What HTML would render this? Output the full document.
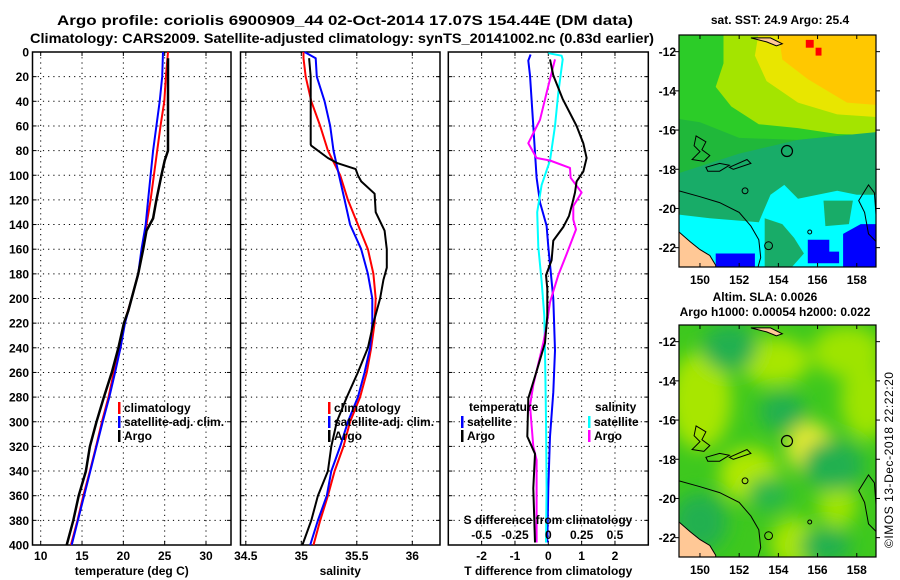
<!DOCTYPE html>
<html><head><meta charset="utf-8"><style>
html,body{margin:0;padding:0;background:#fff;}
svg{display:block;font-family:"Liberation Sans",Arial,sans-serif;}
.t{font-weight:bold;font-size:13.5px;fill:#000;}
.tk{font-weight:bold;font-size:12px;fill:#000;}
</style></head><body>
<svg id="chart" width="900" height="580" viewBox="0 0 900 580" xmlns="http://www.w3.org/2000/svg">
<text class="t" x="345" y="25" text-anchor="middle" textLength="576" lengthAdjust="spacingAndGlyphs">Argo profile: coriolis 6900909_44 02-Oct-2014 17.07S 154.44E (DM data)</text>
<text class="t" x="342" y="43" text-anchor="middle" textLength="624" lengthAdjust="spacingAndGlyphs">Climatology: CARS2009. Satellite-adjusted climatology: synTS_20141002.nc (0.83d earlier)</text>
<g id="p1"></g>
<g id="p2"></g>
<g id="p3"></g>
<g id="m1"></g>
<g id="m2"></g>
<text x="893" y="460" font-size="12" text-anchor="middle" transform="rotate(-90 893 460)" textLength="176">©IMOS 13-Dec-2018 22:22:20</text>
</svg>
<script>
// ---- data ----
const depthTicks=[0,20,40,60,80,100,120,140,160,180,200,220,240,260,280,300,320,340,360,380,400];
const tempTicks=[10,15,20,25,30];
const salTicks=[34.5,35,35.5,36];
const tdTicks=[-2,-1,0,1,2];
const sdTicks=[-0.5,-0.25,0,0.25,0.5];
const sdTickLabels=["-0.5","-0.25","0","0.25","0.5"];
const stdDepths=[0,20,40,60,80,100,120,140,160,180,200,220,240,260,280,300,320,340,360,380,400];
const tempClim=[25.4,25.15,24.95,24.5,24.1,23.7,23.3,22.8,22.3,21.8,21.0,20.1,19.65,18.85,18.2,17.4,16.7,15.95,15.15,14.45,13.65];
const tempSat=[24.8,24.7,24.4,24.0,23.6,23.3,23.0,22.7,22.2,21.8,21.0,20.2,19.65,19.0,18.3,17.5,16.75,16.0,15.25,14.5,13.75];
const argoTDepths=[5,80,88,100,120,135,145,160,180,200,210,220,240,260,280,300,320,340,360,380,400];
const tempArgo=[25.4,25.4,25.0,24.6,24.0,23.6,22.8,22.4,21.8,21.0,20.6,20.07,19.4,18.6,17.65,16.75,15.95,15.47,14.6,13.95,13.15];
const salClimD=[0,5,20,40,60,80,100,120,140,160,180,200,220,240,260,280,300,320,340,360,380,400];
const salClim=[35.02,35.02,35.04,35.09,35.17,35.24,35.35,35.42,35.51,35.6,35.65,35.67,35.66,35.63,35.59,35.53,35.44,35.38,35.3,35.24,35.17,35.11];
const salSat=[35.03,35.13,35.14,35.21,35.26,35.29,35.34,35.39,35.44,35.54,35.6,35.64,35.64,35.62,35.57,35.51,35.42,35.35,35.27,35.23,35.15,35.08];
const salArgoD=[5,20,75,76,86,90,95,100,105,115,130,145,160,175,185,200,220,240,260,280,300,320,340,360,380,400];
const salArgo=[35.07,35.085,35.085,35.09,35.24,35.32,35.49,35.51,35.54,35.66,35.67,35.75,35.77,35.77,35.74,35.71,35.65,35.6,35.51,35.41,35.32,35.27,35.24,35.15,35.09,35.01];
const dTSatD=[2,7,19,60,102,122,141,158,200,242,276,312,354,398];
const dTSat=[-0.53,-0.6,-0.55,-0.45,-0.35,-0.25,-0.05,0,0.15,0.2,0.15,0.05,0,-0.03];
const dTArgoD=[6,19,38,60,74,86,97,105,114,122,133,142,153,169,181,192,214,236,259,281,312,326,354,398];
const dTArgo=[0.05,0.15,0.43,0.85,1.05,1.15,1.05,0.85,0.8,0.73,0.62,0.45,0.15,0.1,-0.07,-0.03,-0.03,-0.1,-0.35,-0.6,-0.63,-0.4,-0.45,-0.4];
const dSSatD=[1,3,6,33,60,88,108,130,158,186,214,242,298,354,398];
const dSSat=[0,0.1,0.108,0.075,0.05,0.0125,-0.05,-0.083,-0.075,-0.05,-0.03,-0.025,-0.0175,-0.0125,-0.0175];
const dSArgoD=[6,33,55,74,86,88,94,102,114,125,136,144,164,181,203,222,236,270,287,320,331,398];
const dSArgo=[0.05,-0.0125,-0.0625,-0.15,-0.0875,0.0125,0.1625,0.1675,0.25,0.1875,0.1875,0.2075,0.1375,0.075,0.0125,-0.0125,-0.0375,-0.1125,-0.1375,-0.1125,-0.0875,-0.0875];
const lonTicks=[150,152,154,156,158];
const latTicks=[-12,-14,-16,-18,-20,-22];
const argoLon=154.44, argoLat=-17.07;

// ---- helpers ----
const NS="http://www.w3.org/2000/svg";
function mk(parent,tag,attrs,text){const e=document.createElementNS(NS,tag);for(const k in attrs)e.setAttribute(k,attrs[k]);if(text!==undefined)e.textContent=text;parent.appendChild(e);return e;}
const TOP=52,BOT=545;
const yD=d=>TOP+(BOT-TOP)*d/400;
function linScale(d0,d1,r0,r1){return v=>r0+(v-d0)*(r1-r0)/(d1-d0);}

function panel(g,x0,x1,sx,xt,xtl,title,gridT){
  depthTicks.forEach(d=>{if(d>0&&d<400){const l=mk(g,'line',{x1:x0,x2:x1,y1:yD(d),y2:yD(d),stroke:'#000','stroke-width':1,'stroke-dasharray':'1.2 4'});
    }});
  gridT.forEach(v=>{const X=sx(v);const l=mk(g,'line',{x1:X,x2:X,y1:TOP,y2:BOT,stroke:'#000','stroke-width':1,'stroke-dasharray':'1.2 4'});
    });
  const r=mk(g,'rect',{x:x0,y:TOP,width:x1-x0,height:BOT-TOP,fill:'none',stroke:'#000','stroke-width':1.5});
  
  depthTicks.forEach(d=>{mk(g,'line',{x1:x0,x2:x0+4,y1:yD(d),y2:yD(d),stroke:'#000'});mk(g,'line',{x1:x1-4,x2:x1,y1:yD(d),y2:yD(d),stroke:'#000'});});
  xt.forEach((v,i)=>{const X=sx(v);mk(g,'line',{x1:X,x2:X,y1:BOT-4,y2:BOT,stroke:'#000'});mk(g,'line',{x1:X,x2:X,y1:TOP,y2:TOP+4,stroke:'#000'});
    const t=mk(g,'text',{class:'tk',x:X,y:BOT+15,'text-anchor':'middle'},xtl[i]);
    });
  const tt=mk(g,'text',{class:'tk',x:(x0+x1)/2,y:575,'text-anchor':'middle'},title);
  
}
function series(g,vals,deps,sx,color,w,name){
  const d=vals.map((v,i)=>(i?'L':'M')+sx(v).toFixed(1)+','+yD(deps[i]).toFixed(1)).join('');
  const p=mk(g,'path',{d:d,fill:'none',stroke:color,'stroke-width':w,'stroke-linejoin':'round'});
  
}
function legendItem(g,x,y,color,label,name){
  mk(g,'rect',{x:x,y:y-10,width:2.5,height:12,fill:color});
  const t=mk(g,'text',{class:'tk',x:x+6,y:y},label);
  
}

const svg=document.getElementById('chart');
depthTicks.forEach(d=>{const t=mk(svg,'text',{class:'tk',x:29,y:yD(d)+4.5,'text-anchor':'end'},String(d));
  });

// panel 1
const p1=document.getElementById('p1');
const sxT=linScale(10,30,40.7,206);
panel(p1,32.5,231,sxT,tempTicks,tempTicks.map(String),'temperature (deg C)',tempTicks);
series(p1,tempClim,stdDepths,sxT,'#ff0000',2,'temp-climatology-line');
series(p1,tempSat,stdDepths,sxT,'#0000ff',2,'temp-satellite-line');
series(p1,tempArgo,argoTDepths,sxT,'#000000',2.5,'temp-argo-line');
legendItem(p1,118,412,'#ff0000','climatology','legend-climatology');
legendItem(p1,118,426,'#0000ff','satellite-adj. clim.','legend-satellite');
legendItem(p1,118,440,'#000000','Argo','legend-argo');

// panel 2
const p2=document.getElementById('p2');
const sxS=linScale(35,36,301.3,412.3);
panel(p2,240.5,440,sxS,salTicks,salTicks.map(String),'salinity',salTicks);
series(p2,salClim,salClimD,sxS,'#ff0000',2,'sal-climatology-line');
series(p2,salSat,salClimD,sxS,'#0000ff',2,'sal-satellite-line');
series(p2,salArgo,salArgoD,sxS,'#000000',2,'sal-argo-line');
legendItem(p2,328,412,'#ff0000','climatology','legend-climatology');
legendItem(p2,328,426,'#0000ff','satellite-adj. clim.','legend-satellite');
legendItem(p2,328,440,'#000000','Argo','legend-argo');

// panel 3
const p3=document.getElementById('p3');
const sxD=linScale(-3,3,448.3,648.3);
const sxSD=v=>sxD(v*4);
panel(p3,448.3,648.3,sxD,tdTicks,tdTicks.map(String),'T difference from climatology',tdTicks);
series(p3,dTSat,dTSatD,sxD,'#0000ff',2,'dT-satellite-line');
series(p3,dSSat,dSSatD,sxSD,'#00ffff',2,'dS-satellite-line');
series(p3,dSArgo,dSArgoD,sxSD,'#ff00ff',2,'dS-argo-line');
series(p3,dTArgo,dTArgoD,sxD,'#000000',2,'dT-argo-line');
sdTicks.forEach((v,i)=>{const t=mk(p3,'text',{class:'tk',x:sxSD(v),y:539,'text-anchor':'middle'},sdTickLabels[i]);
  });
{const t=mk(p3,'text',{class:'tk',x:548,y:524,'text-anchor':'middle'},'S difference from climatology');
 }
{const t=mk(p3,'text',{class:'tk',x:469,y:411},'temperature');}
{const t=mk(p3,'text',{class:'tk',x:595,y:411},'salinity');}
legendItem(p3,461,426,'#0000ff','satellite','legend-t-satellite');
legendItem(p3,461,440,'#000000','Argo','legend-t-argo');
legendItem(p3,588,426,'#00ffff','satellite','legend-s-satellite');
legendItem(p3,588,440,'#ff00ff','Argo','legend-s-argo');

// maps
const MX0=679,MX1=876,LON0=148.93,LAT0=-11.15,PPD=19.6;
function mapFrame(g,top){
  const H=232;
  const mx=lon=>MX0+(lon-LON0)*PPD, my=lat=>top+(LAT0-lat)*PPD;
  const cp='clip'+top;
  const defs=mk(g,'defs',{});const c=mk(defs,'clipPath',{id:cp});mk(c,'rect',{x:MX0,y:top,width:MX1-MX0,height:H});
  const f=mk(defs,'filter',{id:'bl'+top,x:'-50%',y:'-50%',width:'200%',height:'200%'});mk(f,'feGaussianBlur',{stdDeviation:9});
  const body=mk(g,'g',{'clip-path':'url(#'+cp+')'});
  return {mx,my,body,H,top,finish(){
    const poly=(pts,fill,stroke,name)=>{const p=mk(body,'path',{d:'M'+pts.map(q=>mx(q[0]).toFixed(1)+','+my(q[1]).toFixed(1)).join('L')+'Z',fill:fill,stroke:stroke||'none','stroke-width':1});
      };
    poly([[148.93,-21.2],[149.5,-21.7],[150,-22.1],[150.5,-22.4],[150.8,-22.9],[150.8,-23.2],[148.93,-23.2]],'#ffc896','#000','australia-coast');
    const line=(pts,name)=>{const p=mk(body,'path',{d:'M'+pts.map(q=>mx(q[0]).toFixed(1)+','+my(q[1]).toFixed(1)).join('L'),fill:'none',stroke:'#000','stroke-width':1});
      };
    line([[148.93,-19.1],[150,-19.4],[151,-19.7],[152,-20.2],[152.6,-20.9],[153,-21.6],[153.1,-22.5],[152.9,-23.2]],'reef-contour');
    poly([[149.8,-16.3],[150.3,-16.6],[150.1,-17.0],[150.5,-17.3],[150.2,-17.6],[149.6,-17.5],[150.0,-17.1],[149.7,-16.8]],'none','#000','reef-outline');
    poly([[150.3,-17.9],[151,-17.7],[151.5,-17.8],[151.0,-18.1],[150.4,-18.1]],'none','#000','reef-outline');
    poly([[151.5,-17.9],[152.4,-17.5],[152.6,-17.7],[151.7,-18.0]],'none','#000','reef-outline');
    poly([[158.1,-19.6],[158.6,-18.8],[158.9,-19.2],[159.0,-20.6],[159.3,-21.5],[159.1,-21.8],[158.6,-21.3],[158.4,-20.2]],'none','#000','reef-outline');
    poly([[152.6,-11.3],[153.4,-11.5],[153.9,-11.7],[154.2,-11.6],[153.6,-11.3]],'#ffc896','#000','island-outline');
    [[152.3,-19.1,0.15],[153.5,-21.9,0.2],[155.6,-21.2,0.1]].forEach(q=>{const e=mk(body,'circle',{cx:mx(q[0]),cy:my(q[1]),r:q[2]*PPD,fill:'none',stroke:'#000'});
      });
    const ac=mk(g,'circle',{cx:mx(argoLon),cy:my(argoLat),r:5.5,fill:'none',stroke:'#000','stroke-width':1.2});
    
    const fr=mk(g,'rect',{x:MX0,y:top,width:MX1-MX0,height:H,fill:'none',stroke:'#000','stroke-width':1.2});
    
    lonTicks.forEach(l=>{mk(g,'line',{x1:mx(l),x2:mx(l),y1:top+H-4,y2:top+H,stroke:'#000'});mk(g,'line',{x1:mx(l),x2:mx(l),y1:top,y2:top+4,stroke:'#000'});
      const t=mk(g,'text',{class:'tk',x:mx(l),y:top+H+17,'text-anchor':'middle'},String(l));
      });
    latTicks.forEach(l=>{mk(g,'line',{x1:MX0-4,x2:MX0,y1:my(l),y2:my(l),stroke:'#000'});mk(g,'line',{x1:MX1,x2:MX1+4,y1:my(l),y2:my(l),stroke:'#000'});
      const t=mk(g,'text',{class:'tk',x:MX0-3,y:my(l)+4.5,'text-anchor':'end'},String(l));
      });
  }};
}
// SST map
const m1=document.getElementById('m1');
{const t=mk(m1,'text',{class:'tk',x:780,y:24,'text-anchor':'middle'},'sat. SST: 24.9 Argo: 25.4');}
const A=mapFrame(m1,35);
{const b=A.body,mx=A.mx,my=A.my;
 const P=(pts,fill,name)=>{const p=mk(b,'path',{d:'M'+pts.map(q=>mx(q[0]).toFixed(1)+','+my(q[1]).toFixed(1)).join('L')+'Z',fill:fill});};
 P([[148,-11],[160,-11],[160,-24],[148,-24]],'#2ccc28','sst-base');
 P([[148,-15.3],[150,-15.6],[152,-16.4],[155,-16.5],[158,-16.2],[160,-16.0],[160,-24],[148,-24]],'#20b83a','sst-mid-zone');
 P([[151.2,-11],[160,-11],[160,-16.3],[157,-16.2],[155,-15.9],[153,-15.7],[151.6,-14.8],[150.8,-13.8],[151.2,-12.6]],'#a4e400','sst-warm-band');
 P([[153,-11],[160,-11],[160,-15.4],[157,-15.2],[155,-14.6],[153.4,-13.5],[152.8,-12.2]],'#e8e600','sst-yellow-zone');
 P([[154.0,-11],[160,-11],[160,-14.8],[157.5,-14.6],[155.5,-13.4],[154.2,-12.4]],'#ffc800','sst-orange-zone');
 P([[155.4,-11.4],[155.8,-11.4],[155.8,-11.8],[155.4,-11.8]],'#ff0000','sst-hot-spot');
 P([[155.9,-11.8],[156.2,-11.8],[156.2,-12.2],[155.9,-12.2]],'#ff0000','sst-hot-spot');
 P([[148,-18.5],[152,-17.2],[155,-16.5],[158,-16.2],[160,-16.0],[160,-24],[148,-24]],'#18ac68','sst-cool-zone');
 P([[148,-20.2],[150.5,-20.5],[153,-20.7],[153.6,-19.3],[154.3,-18.8],[155,-19.5],[156,-19.3],[157,-19.1],[158,-19.3],[160,-19.3],[160,-24],[148,-24]],'#00ffff','sst-cyan-zone');
 P([[153.3,-20.5],[154.2,-20.8],[154.8,-21.5],[155.3,-22.3],[154.5,-23.2],[153.3,-23.2]],'#18ac68','sst-cool-patch');
 P([[156.3,-19.6],[157.8,-19.6],[157.6,-20.8],[156.4,-20.9]],'#18ac68','sst-cool-patch');
 P([[150.8,-22.3],[152.8,-22.3],[152.8,-23.2],[150.8,-23.2]],'#0000ff','sst-blue-patch');
 P([[155.5,-21.6],[156.6,-21.6],[156.6,-22.2],[157.1,-22.2],[157.1,-22.8],[155.5,-22.8]],'#0000ff','sst-blue-patch');
 P([[157.3,-21.3],[158.2,-20.8],[160,-20.8],[160,-23.2],[157.3,-23.2]],'#0000ff','sst-blue-patch');
}
A.finish();
// SLA map
const m2=document.getElementById('m2');
{const t=mk(m2,'text',{class:'tk',x:765,y:301,'text-anchor':'middle'},'Altim. SLA: 0.0026');}
{const t=mk(m2,'text',{class:'tk',x:775,y:316,'text-anchor':'middle'},'Argo h1000: 0.00054 h2000: 0.022');}
const B=mapFrame(m2,325);
{const b=B.body,mx=B.mx,my=B.my;
 const r=mk(b,'rect',{x:670,y:315,width:220,height:260,fill:'#3ec81e'});
 const bl=mk(b,'g',{filter:'url(#bl325)'});
 const E=(lon,lat,rx,ry,fill)=>{const e=mk(bl,'ellipse',{cx:mx(lon),cy:my(lat),rx:rx*PPD,ry:ry*PPD,fill:fill});};
 E(150,-15,1.6,2.5,'#a8e600');E(153.8,-13,1.8,1.2,'#a8e600');E(157.5,-12.5,1.8,1.3,'#9ee400');E(152.5,-18.8,1.5,1.4,'#b0e800');
 E(155.6,-17.4,1.2,1.3,'#e4ea30');E(158.5,-15,1.3,2,'#9ee400');E(157,-20.3,1,1.2,'#9ee400');E(154.8,-22.3,1.2,1.3,'#a8e600');
 E(151.5,-12.3,1.4,1.2,'#22b050');E(154.2,-15.6,1.2,1.0,'#22b050');E(156.8,-18.3,1.6,1.3,'#22b050');E(150,-21.2,1.4,1.5,'#22b050');E(156.4,-22.4,1.3,0.9,'#22b050');E(153.5,-19.8,1.1,0.9,'#2ab848');
}
B.finish();
</script>
</body></html>
